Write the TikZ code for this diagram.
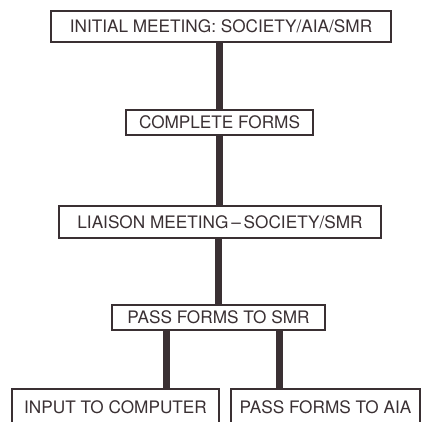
\documentclass[tikz,border=0pt]{standalone}
\usepackage{fontspec}
\setmainfont{TeX Gyre Heros}
\usepackage{xcolor}
\usetikzlibrary{positioning}
\definecolor{ink}{HTML}{3A3033}
\tikzset{
    stage/.style={draw=ink, line width=1.6pt, fill=white, text=ink, inner sep=0pt,
        font=\fontsize{17.2}{20}\selectfont},
    link/.style={draw=ink, line width=7pt}
}

\begin{document}
\begin{tikzpicture}[x=1pt, y=-1pt]
    \useasboundingbox (0,0) rectangle (431,421);

    % Stages
    \node[stage, minimum width=340pt, minimum height=31pt] (init) at (221,26.5) {INITIAL MEETING: SOCIETY/AIA/SMR};
    \node[stage, minimum width=187pt, minimum height=25pt] (forms) at (219.5,122.5) {COMPLETE FORMS};
    \node[stage, minimum width=322pt, minimum height=32pt] (liaison) at (220,222) {LIAISON MEETING\,--\,SOCIETY/SMR};
    \node[stage, minimum width=213pt, minimum height=25pt] (pass) at (218.5,317.5) {PASS FORMS TO SMR};
    \node[stage, minimum width=207pt, minimum height=36pt] (input) at (115.5,407) {INPUT TO COMPUTER};
    \node[stage, minimum width=189pt, minimum height=36pt] (aia) at (325.5,407) {PASS FORMS TO AIA};

    % Trunk
    \draw[link] (init.south -| forms.north) -- (forms.north);
    \draw[link] (forms.south) -- (forms.south |- liaison.north);
    \draw[link] (liaison.south -| pass.north) -- (pass.north);

    % Branches
    \draw[link] ([xshift=-52.5pt]pass.south) -- ([xshift=-52.5pt]pass.south |- input.north);
    \draw[link] ([xshift=60.5pt]pass.south) -- ([xshift=60.5pt]pass.south |- aia.north);
\end{tikzpicture}
\end{document}
